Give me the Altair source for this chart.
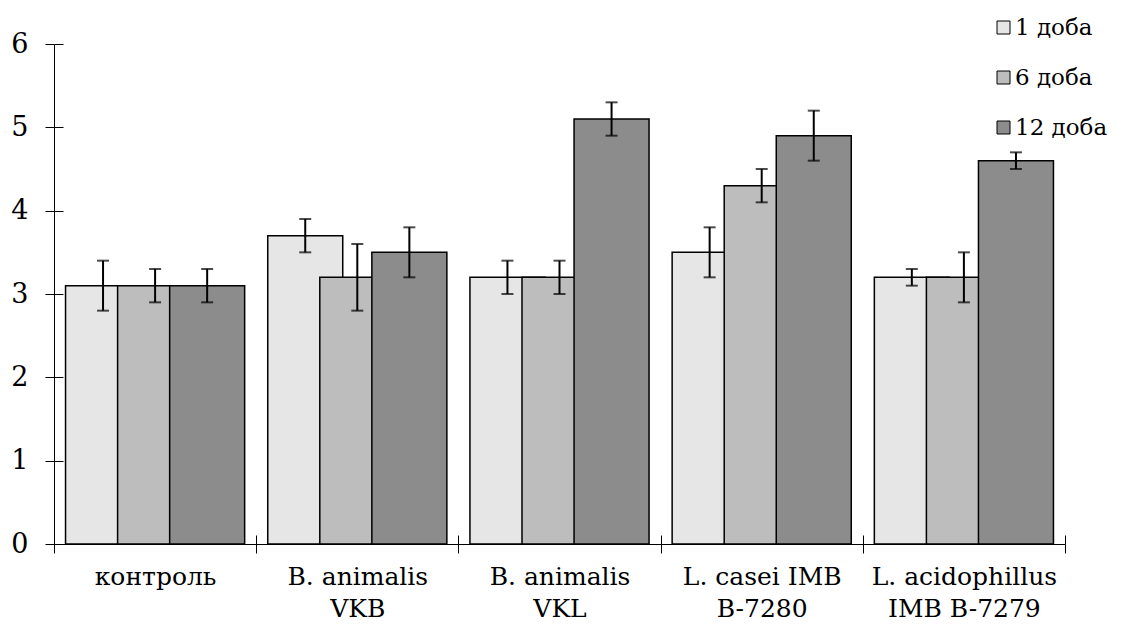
import altair as alt
import pandas as pd

# Groups (a "|" marks the line break in the axis label)
categories = [
    "контроль",
    "B. animalis|VKB",
    "B. animalis|VKL",
    "L. casei IMB|B-7280",
    "L. acidophillus|IMB B-7279",
]
series = ["1 доба", "6 доба", "12 доба"]

# Mean values per series, in the order of `categories`
values_day1 = [3.1, 3.7, 3.2, 3.5, 3.2]
values_day6 = [3.1, 3.2, 3.2, 4.3, 3.2]
values_day12 = [3.1, 3.5, 5.1, 4.9, 4.6]

# Error half-widths per series
err_day1 = [0.3, 0.2, 0.2, 0.3, 0.1]
err_day6 = [0.2, 0.4, 0.2, 0.2, 0.3]
err_day12 = [0.2, 0.3, 0.2, 0.3, 0.1]

fills = ["#e6e6e6", "#bdbdbd", "#8c8c8c"]

rows = []
for name, vals, errs in zip(series,
                            [values_day1, values_day6, values_day12],
                            [err_day1, err_day6, err_day12]):
    for cat, v, e in zip(categories, vals, errs):
        rows.append({"group": cat, "series": name, "value": v,
                     "lo": round(v - e, 3), "hi": round(v + e, 3)})
df = pd.DataFrame(rows)

W, H = 1011, 500
FONT = "DejaVu Serif"
FS = 27

x_enc = alt.X(
    "group:N", sort=categories,
    scale=alt.Scale(paddingInner=0, paddingOuter=0),
    axis=alt.Axis(title=None, orient="bottom", tickBand="extent", tickSize=9,
                  labelExpr="split(datum.label, '|')", labelAngle=0,
                  labelFontSize=25, labelFont=FONT, labelColor="black",
                  labelLineHeight=32, labelPadding=11, labelBaseline="top",
                  labelLimit=400,
                  domainColor="black", tickColor="black"),
)
x_off = alt.XOffset("series:N", sort=series,
                    scale=alt.Scale(paddingInner=0, paddingOuter=0.442))

y_scale = alt.Scale(domain=[0, 6], nice=False)

bars = alt.Chart(df).mark_bar(width=75, stroke="black", strokeWidth=1.5).encode(
    x=x_enc,
    xOffset=x_off,
    y=alt.Y("value:Q", scale=y_scale,
            axis=alt.Axis(title=None, orient="left", values=[0, 1, 2, 3, 4, 5, 6],
                          tickSize=9, labelFontSize=FS, labelFont=FONT,
                          labelColor="black", labelPadding=17,
                          domainColor="black", tickColor="black", grid=False)),
    fill=alt.Fill("series:N", sort=series,
                  scale=alt.Scale(domain=series, range=fills),
                  legend=alt.Legend(title=None, orient="none", legendX=938, legendY=-28,
                                    symbolType="square", symbolSize=169,
                                    symbolStrokeColor="black", symbolStrokeWidth=1,
                                    labelFont=FONT, labelFontSize=23, labelColor="black",
                                    labelOffset=0, rowPadding=26)),
)

# Error bar stems; this layer also carries the inward-pointing tick axes
stems = alt.Chart(df).mark_rule(color="black", strokeWidth=2).encode(
    x=alt.X("group:N", sort=categories,
            scale=alt.Scale(paddingInner=0, paddingOuter=0),
            axis=alt.Axis(title=None, orient="top", offset=-H, labels=False,
                          domain=False, tickBand="extent", tickSize=9,
                          tickColor="black")),
    xOffset=x_off,
    y=alt.Y("lo:Q", scale=y_scale,
            axis=alt.Axis(title=None, orient="right", offset=-W, labels=False,
                          domain=False, values=[0, 1, 2, 3, 4, 5, 6], tickSize=9,
                          tickColor="black", grid=False)),
    y2="hi:Q",
)

cap_lo = alt.Chart(df).mark_tick(color="black", thickness=2, size=12).encode(
    x=alt.X("group:N", sort=categories, axis=None),
    xOffset=x_off,
    y=alt.Y("lo:Q", scale=y_scale, axis=None),
)
cap_hi = alt.Chart(df).mark_tick(color="black", thickness=2, size=12).encode(
    x=alt.X("group:N", sort=categories, axis=None),
    xOffset=x_off,
    y=alt.Y("hi:Q", scale=y_scale, axis=None),
)

chart = (
    alt.layer(bars, stems, cap_lo, cap_hi)
    .resolve_axis(x="independent", y="independent")
    .properties(
        width=W, height=H,
        autosize=alt.AutoSizeParams(type="none"),
        padding={"left": 54, "top": 44, "right": 58, "bottom": 84},
        background="white",
    )
    .configure(font=FONT)
    .configure_view(stroke=None)
    .configure_axis(domainWidth=1, tickWidth=1, labelFont=FONT)
    .configure_legend(labelFont=FONT)
)

chart.save("out.html", embed_options={"renderer": "svg", "actions": False})
